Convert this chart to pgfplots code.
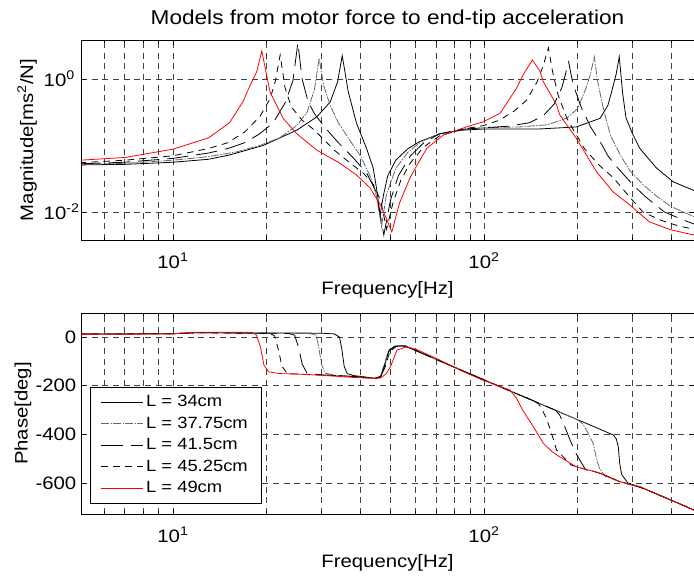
\documentclass[border=0pt]{standalone}
\usepackage{fontspec}
\setmainfont{Liberation Sans}[FakeStretch=1.13]
\usepackage{pgfplots}
\pgfplotsset{compat=1.18}
\newcommand\lf{\fontsize{12.2pt}{14pt}\selectfont}
\tikzset{
  s34/.style={black, line width=0.6pt},
  s37/.style={black!60, line width=0.6pt, dash pattern=on 6pt off 1pt on 1pt off 1pt},
  s41/.style={black, line width=0.6pt, dash pattern=on 16pt off 6pt},
  s45/.style={black, line width=0.6pt, dash pattern=on 5pt off 4pt},
  s49/.style={color=red, line width=0.6pt},
}
\begin{document}
\begin{tikzpicture}
\useasboundingbox (0,0) rectangle (520.5pt,432.75pt);
% ---------------- Magnitude ----------------
\begin{axis}[scale only axis, width=459.75pt, height=150pt, at={(60.75pt,402.75pt)}, anchor=north west,
  xmode=log, xmin=5.06, xmax=473,
  xtick={10,100}, xticklabels={10\textsuperscript{1},10\textsuperscript{2}},
  minor xtick={6,7,8,9,20,30,40,50,60,70,80,90,200,300,400},
  xmajorgrids, xminorgrids, ymajorgrids,
  grid style={black!75, dash pattern=on 4.5pt off 3.5pt, line width=0.5pt},
  minor grid style={black!75, dash pattern=on 4.5pt off 3.5pt, line width=0.5pt},
  tick align=inside, tick pos=both, major tick length=4pt, minor tick length=2.5pt,
  axis line style={black, line width=0.6pt},
  tick style={black, line width=0.5pt},
  tick label style={font=\fontsize{13.5pt}{16pt}\selectfont},
  xticklabel style={yshift=-6pt},
  yticklabel style={anchor=west, xshift=-31.5pt},
  ymode=log, ymin=0.00379, ymax=3.86, ytick={0.01,1},
  yticklabels={10\textsuperscript{-2},10\textsuperscript{0}}, yminorticks=false,
  title={Models from motor force to end-tip acceleration},
  title style={at={(axis description cs:0.5,1.065)}, anchor=center, font=\fontsize{15pt}{18pt}\selectfont},
  xlabel={Frequency[Hz]},
  xlabel style={at={(axis description cs:0.5,-0.25)}, anchor=center, font=\fontsize{13.5pt}{16pt}\selectfont},
  ylabel={Magnitude[ms\textsuperscript{2}/N]},
  ylabel style={at={(axis description cs:-0.088,0.5)}, anchor=center, font=\fontsize{13.5pt}{16pt}\selectfont},
]
\addplot[s34] coordinates {(5,0.051) (7,0.052) (10,0.056) (13,0.062) (15.2,0.072) (19.5,0.1) (25,0.17) (29,0.27) (32,0.45) (33.8,0.9) (35,2.24) (36.6,0.64) (38.9,0.216) (41.9,0.09) (44,0.046) (45.3,0.02) (46.3,0.009) (47.5,0.018) (49,0.035) (52,0.06) (57,0.09) (62,0.114) (72,0.15) (85,0.17) (100,0.177) (150,0.177) (198,0.19) (236,0.256) (250,0.4) (257,0.64) (266,1.2) (272,2.16) (279,0.6) (286,0.26) (300,0.15) (317,0.09) (358,0.046) (405,0.0285) (473,0.021)};
\addplot[s37] coordinates {(5,0.052) (7,0.054) (10,0.06) (13,0.068) (16,0.08) (19,0.1) (22,0.13) (25,0.2) (27,0.32) (28.5,0.7) (29.5,2.05) (30.5,0.8) (32,0.4) (34,0.22) (37,0.12) (40,0.07) (43,0.035) (45,0.018) (46.8,0.006) (48.5,0.018) (52,0.045) (57,0.08) (63,0.115) (72,0.15) (85,0.175) (100,0.185) (130,0.19) (160,0.205) (185,0.26) (200,0.36) (212,0.7) (220,1.2) (226,2.16) (232,0.9) (242,0.35) (255,0.14) (275,0.07) (294,0.042) (324,0.026) (360,0.017) (400,0.012) (473,0.0085)};
\addplot[s41] coordinates {(5,0.053) (7,0.056) (10,0.064) (13,0.077) (15,0.09) (17,0.11) (19,0.15) (21,0.22) (23,0.45) (24.3,0.95) (25.2,3.5) (26,1.0) (27.2,0.45) (28.5,0.3) (31,0.18) (34,0.11) (38,0.065) (42,0.038) (45,0.02) (47.6,0.0045) (50,0.015) (53,0.035) (58,0.07) (64,0.11) (72,0.15) (85,0.175) (100,0.185) (120,0.195) (140,0.22) (155,0.28) (168,0.42) (178,0.75) (187,1.8) (193,0.85) (205,0.38) (220,0.19) (240,0.1) (250,0.07) (270,0.045) (300,0.026) (330,0.017) (380,0.01) (430,0.0078) (473,0.0066)};
\addplot[s45] coordinates {(5,0.055) (7,0.06) (10,0.07) (13,0.09) (15,0.11) (17,0.16) (19,0.27) (20.5,0.5) (21.3,0.9) (22.1,2.3) (22.9,0.75) (24,0.38) (26,0.24) (28.5,0.17) (33,0.085) (37,0.055) (41,0.038) (44,0.026) (46.5,0.015) (48.6,0.0055) (51,0.014) (54,0.03) (58,0.055) (64,0.095) (72,0.14) (85,0.175) (100,0.2) (112,0.24) (125,0.33) (137,0.48) (148,0.9) (155,1.6) (161,2.95) (166,1.3) (173,0.57) (185,0.25) (210,0.09) (235,0.05) (260,0.033) (290,0.018) (324,0.01) (370,0.0075) (420,0.0062) (473,0.0055)};
\addplot[s49] coordinates {(5,0.06) (7,0.066) (10,0.088) (13,0.13) (15.2,0.22) (16.8,0.46) (17.6,0.76) (18.6,1.3) (19.3,2.64) (20.5,0.64) (22.6,0.256) (25,0.15) (29,0.085) (34.4,0.054) (38.9,0.036) (43,0.023) (46.4,0.0128) (48.5,0.008) (50.5,0.005) (53.6,0.014) (57.7,0.032) (60,0.045) (65.5,0.091) (74,0.144) (87.7,0.19) (99.5,0.228) (112.6,0.305) (127,0.72) (133.4,1.15) (143,1.93) (151.5,1.29) (155,0.91) (171,0.41) (175,0.29) (198,0.128) (230,0.04) (260,0.02) (294,0.0128) (340,0.0071) (398,0.0054) (473,0.0045)};
\end{axis}
% ---------------- Phase ----------------
\begin{axis}[scale only axis, width=459.75pt, height=150.75pt, at={(60.75pt,198pt)}, anchor=north west,
  xmode=log, xmin=5.06, xmax=473,
  xtick={10,100}, xticklabels={10\textsuperscript{1},10\textsuperscript{2}},
  minor xtick={6,7,8,9,20,30,40,50,60,70,80,90,200,300,400},
  xmajorgrids, xminorgrids, ymajorgrids,
  grid style={black!75, dash pattern=on 4.5pt off 3.5pt, line width=0.5pt},
  minor grid style={black!75, dash pattern=on 4.5pt off 3.5pt, line width=0.5pt},
  tick align=inside, tick pos=both, major tick length=4pt, minor tick length=2.5pt,
  axis line style={black, line width=0.6pt},
  tick style={black, line width=0.5pt},
  tick label style={font=\fontsize{13.5pt}{16pt}\selectfont},
  xticklabel style={yshift=-6pt},
  ymin=-727, ymax=99, ytick={-600,-400,-200,0}, yticklabels={-600,-400,-200,0},
  xlabel={Frequency[Hz]},
  xlabel style={at={(axis description cs:0.5,-0.245)}, anchor=center, font=\fontsize{13.5pt}{16pt}\selectfont},
  ylabel={Phase[deg]},
  ylabel style={at={(axis description cs:-0.0946,0.5)}, anchor=center, font=\fontsize{13.5pt}{16pt}\selectfont},
  legend cell align=left,
  legend image code/.code={\draw[#1] (0cm,0cm) -- (0.9cm,0cm); \path (0cm,0cm) -- (1.1cm,0cm);},
  legend style={at={(axis description cs:0.0147,0.632)}, anchor=north west, draw=black, fill=white,
    font=\lf, row sep=2.2pt, inner xsep=8pt, inner ysep=4pt},
]
\addplot[s34] coordinates {(5,12) (10,14) (12,18) (30,16) (33,13) (34.3,0) (34.9,-50) (35.5,-120) (36.3,-150) (38,-158) (42,-165) (45,-170) (46.5,-162) (47.8,-120) (49.3,-60) (51.5,-38) (55,-35) (60,-54) (70,-91) (80,-123) (90,-151) (100,-176) (120,-219) (140,-255) (160,-287) (180,-315) (200,-340) (220,-362) (240,-383) (260,-402) (266,-418) (270,-450) (273,-520) (277,-565) (290,-600) (318,-617) (376,-656) (420,-682) (473,-711)};
\addplot[s37] coordinates {(5,12) (10,14) (12,18) (27,15) (28.8,10) (29.4,-40) (30,-110) (30.8,-148) (33,-156) (38,-162) (42,-166) (45,-170) (46.5,-160) (47.8,-110) (49.3,-55) (52,-37) (56,-36) (60,-54) (70,-91) (80,-123) (90,-151) (100,-176) (120,-219) (140,-255) (160,-287) (180,-315) (200,-340) (208,-358) (216,-395) (224,-436) (230,-500) (235,-540) (245,-572) (273,-594) (318,-617) (376,-656) (420,-682) (473,-711)};
\addplot[s41] coordinates {(5,12) (10,14) (12,18) (23.5,15) (24.6,8) (25.3,-40) (26,-110) (27,-150) (30,-155) (36,-160) (42,-166) (45,-170) (46.8,-158) (48,-110) (49.6,-52) (52,-37) (56,-36) (60,-54) (70,-91) (80,-123) (90,-151) (100,-176) (120,-219) (140,-255) (160,-287) (170,-301) (175,-320) (182,-370) (189,-423) (196,-470) (203,-505) (212,-545) (236,-560) (273,-594) (318,-617) (376,-656) (420,-682) (473,-711)};
\addplot[s45] coordinates {(5,12) (10,14) (12,18) (20.5,15) (21.2,5) (21.8,-50) (22.4,-120) (23.3,-150) (26,-153) (32,-157) (38,-162) (44,-169) (46.5,-165) (48,-125) (49.8,-60) (52,-40) (56,-37) (60,-54) (70,-91) (80,-123) (90,-151) (100,-176) (120,-219) (140,-255) (150,-275) (153,-293) (158,-330) (162,-368) (167,-420) (171,-464) (179,-490) (190,-525) (198,-533) (236,-559) (273,-594) (318,-617) (376,-656) (420,-682) (473,-711)};
\addplot[s49] coordinates {(5,11) (10,13) (11.5,20) (17.8,20) (18.5,10) (19.1,-40) (19.6,-115) (20.3,-143) (22,-150) (25,-152) (30,-157) (37,-165) (44,-170) (46.5,-168) (48.5,-150) (50,-122) (52.5,-53) (56.4,-40) (60.7,-51) (72,-94) (85,-140) (99,-177) (110,-198) (121,-218) (127,-250) (133,-300) (144,-368) (155,-436) (165,-470) (175,-492) (198,-533) (236,-559) (273,-594) (318,-615) (376,-656) (420,-682) (473,-711)};
\legend{\lf L = 34cm, \lf L = 37.75cm, \lf L = 41.5cm, \lf L = 45.25cm, \lf L = 49cm}
\end{axis}
\end{tikzpicture}
\end{document}
